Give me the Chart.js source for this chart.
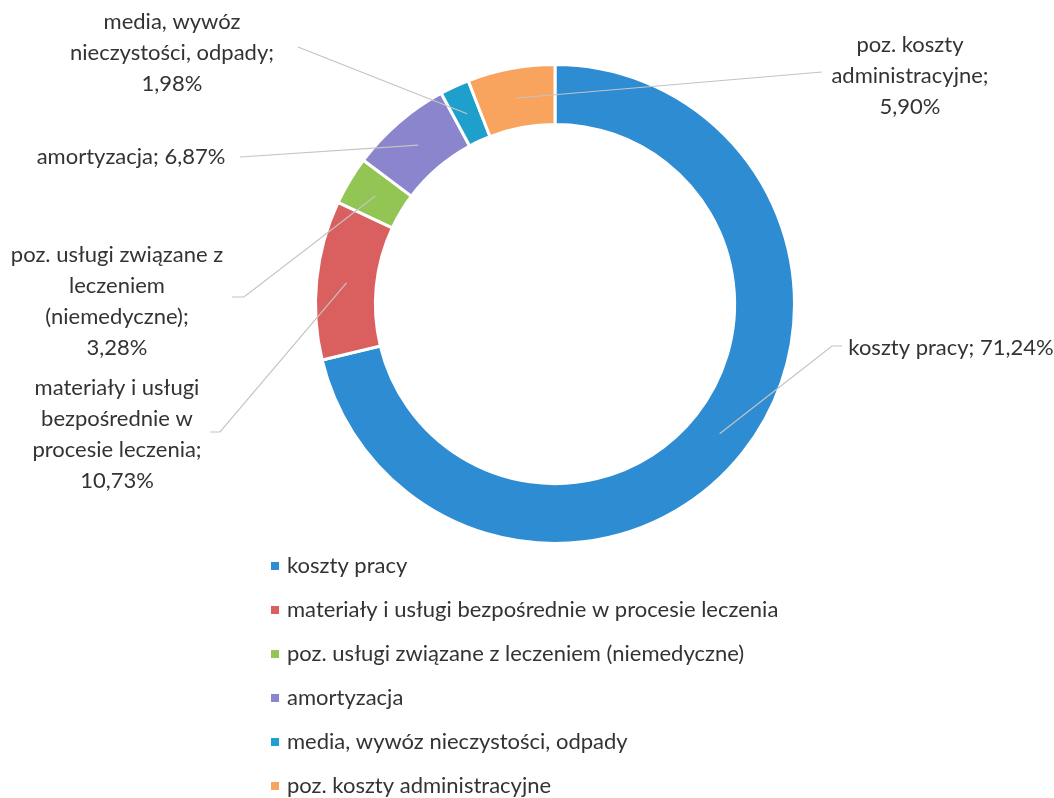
<!DOCTYPE html>
<html>
<head>
<meta charset="utf-8">
<script src="https://cdn.jsdelivr.net/npm/chart.js@4/dist/chart.umd.min.js"></script>
<style>
  html, body { margin: 0; padding: 0; background: #fff; }
  #wrap { position: relative; width: 1054px; height: 798px; }
</style>
</head>
<body>
<div id="wrap"><canvas id="costChart" width="1054" height="798"></canvas></div>
<script>
const categories = [
    "koszty pracy",
    "materiały i usługi bezpośrednie w procesie leczenia",
    "poz. usługi związane z leczeniem (niemedyczne)",
    "amortyzacja",
    "media, wywóz nieczystości, odpady",
    "poz. koszty administracyjne"
];
const shares = [71.24, 10.73, 3.28, 6.87, 1.98, 5.90];
const colors = ["#2e8cd3", "#d9605f", "#92c553", "#8a85cc", "#1fa0cc", "#f8a35e"];

// wrapped label lines (text only) and where each label sits
const labelLines = [
    ["koszty pracy; 71,24%"],
    ["materiały i usługi", "bezpośrednie w", "procesie leczenia;", "10,73%"],
    ["poz. usługi związane z", "leczeniem", "(niemedyczne);", "3,28%"],
    ["amortyzacja; 6,87%"],
    ["media, wywóz", "nieczystości, odpady;", "1,98%"],
    ["poz. koszty", "administracyjne;", "5,90%"]
];
const labelBox = [
    { x: 951, y: 348, anchor: [842, 346], elbow: [832, 346] },
    { x: 117, y: 388, anchor: [210, 432], elbow: [220, 432] },
    { x: 117, y: 255, anchor: [232, 297], elbow: [244, 297] },
    { x: 131, y: 157, anchor: [240, 157], elbow: null },
    { x: 172, y: 22, anchor: [298, 47], elbow: null },
    { x: 910, y: 45, anchor: [822, 72], elbow: null }
];

const FONT = "22px Lato, 'Open Sans', sans-serif";
const LINE_H = 31;

const outsideLabels = {
    id: "outsideLabels",
    afterDatasetsDraw(chart) {
        const ctx = chart.ctx;
        const arcs = chart.getDatasetMeta(0).data;
        ctx.save();
        // leader lines
        ctx.strokeStyle = "#c4c4c4";
        ctx.lineWidth = 1.2;
        arcs.forEach((arc, i) => {
            const p = arc.tooltipPosition();
            const b = labelBox[i];
            ctx.beginPath();
            ctx.moveTo(p.x, p.y);
            if (b.elbow) ctx.lineTo(b.elbow[0], b.elbow[1]);
            ctx.lineTo(b.anchor[0], b.anchor[1]);
            ctx.stroke();
        });
        // label texts
        ctx.font = FONT;
        ctx.fillStyle = "#333333";
        ctx.textAlign = "center";
        ctx.textBaseline = "middle";
        labelLines.forEach((lines, i) => {
            const b = labelBox[i];
            lines.forEach((t, k) => ctx.fillText(t, b.x, b.y + k * LINE_H));
        });
        // legend list under the ring
        ctx.textAlign = "left";
        categories.forEach((name, i) => {
            const y = 566 + i * 44;
            ctx.fillStyle = colors[i];
            ctx.fillRect(271, y - 4, 8, 8);
            ctx.fillStyle = "#333333";
            ctx.fillText(name, 287, y);
        });
        ctx.restore();
    }
};

new Chart(document.getElementById("costChart"), {
    type: "doughnut",
    data: {
        labels: categories,
        datasets: [{
            data: shares,
            backgroundColor: colors,
            borderColor: "#ffffff",
            borderWidth: 3
        }]
    },
    options: {
        responsive: false,
        animation: false,
        cutout: "75%",
        layout: { padding: { left: 314, right: 258, top: 63, bottom: 253 } },
        plugins: {
            legend: { display: false },
            tooltip: { enabled: false }
        }
    },
    plugins: [outsideLabels]
});
</script>
</body>
</html>
